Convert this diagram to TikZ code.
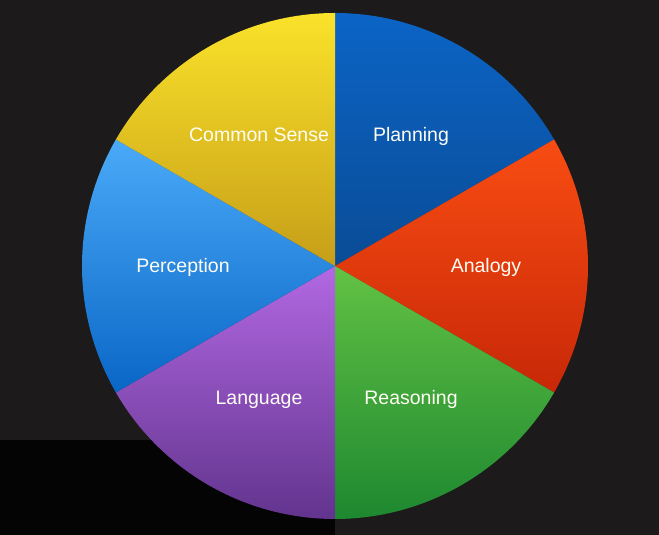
\documentclass[tikz,border=0pt]{standalone}
\usepackage{fontspec}
\setmainfont{Liberation Sans}
\usepackage{xcolor}
\usetikzlibrary{calc}

\definecolor{bgdark}{HTML}{1C1A1A}
\definecolor{bgdeep}{HTML}{040404}
\definecolor{planTop}{HTML}{0B64C6}
\definecolor{planBot}{HTML}{0A4C96}
\definecolor{anaTop}{HTML}{F84C12}
\definecolor{anaBot}{HTML}{C82808}
\definecolor{reaTop}{HTML}{62C244}
\definecolor{reaBot}{HTML}{1E8830}
\definecolor{lanTop}{HTML}{B268E2}
\definecolor{lanBot}{HTML}{62348E}
\definecolor{perTop}{HTML}{4AAAF8}
\definecolor{perBot}{HTML}{0A66C6}
\definecolor{comTop}{HTML}{FAE22A}
\definecolor{comBot}{HTML}{C69E18}

\begin{document}
\begin{tikzpicture}[x=1pt,y=1pt,
  sector/.style={line width=0pt},
  slicelabel/.style={text=white!96!yellow, font=\fontsize{19.5}{23}\selectfont,
    inner sep=0pt, anchor=base, yshift=-7pt}]
  % Background
  \fill[bgdark] (0,0) rectangle (659,535);
  \fill[bgdeep] (0,0) rectangle (335,95);
  \useasboundingbox (0,0) rectangle (659,535);

  % Centre of the wheel
  \coordinate (c) at (335,269);

  % Sectors
  \shade[sector, top color=planTop, bottom color=planBot]
    (c) -- ++(90:253pt) arc[start angle=90, end angle=30, radius=253pt] -- cycle;
  \shade[sector, top color=anaTop, bottom color=anaBot]
    (c) -- ++(30:253pt) arc[start angle=30, end angle=-30, radius=253pt] -- cycle;
  \shade[sector, top color=reaTop, bottom color=reaBot]
    (c) -- ++(-30:253pt) arc[start angle=-30, end angle=-90, radius=253pt] -- cycle;
  \shade[sector, top color=lanTop, bottom color=lanBot]
    (c) -- ++(-90:253pt) arc[start angle=-90, end angle=-150, radius=253pt] -- cycle;
  \shade[sector, top color=perTop, bottom color=perBot]
    (c) -- ++(-150:253pt) arc[start angle=-150, end angle=-210, radius=253pt] -- cycle;
  \shade[sector, top color=comTop, bottom color=comBot]
    (c) -- ++(150:253pt) arc[start angle=150, end angle=90, radius=253pt] -- cycle;

  % Labels
  \node[slicelabel] (planning)   at ($(c)+(60:152pt)$)  {Planning};
  \node[slicelabel] (analogy)    at ($(c)+(0:151pt)$)   {Analogy};
  \node[slicelabel] (reasoning)  at ($(c)+(-60:152pt)$) {Reasoning};
  \node[slicelabel] (language)   at ($(c)+(-120:152pt)$) {Language};
  \node[slicelabel] (perception) at ($(c)+(180:152pt)$) {Perception};
  \node[slicelabel] (commonsense) at ($(c)+(120:152pt)$) {Common Sense};
\end{tikzpicture}
\end{document}
